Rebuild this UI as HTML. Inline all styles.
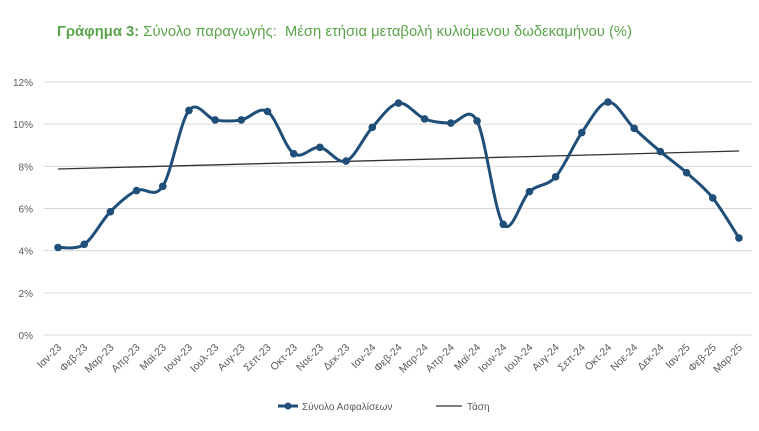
<!DOCTYPE html>
<html><head><meta charset="utf-8">
<style>
body{margin:0;background:#fff;width:759px;height:426px;overflow:hidden;font-family:"Liberation Sans",sans-serif}
</style></head><body>
<svg id="s" width="759" height="426" xmlns="http://www.w3.org/2000/svg" font-family="Liberation Sans, sans-serif">
<text x="57" y="36" font-size="14.8" fill="#5aa54a"><tspan font-weight="bold">Γράφημα 3:</tspan> Σύνολο παραγωγής:&#160; Μέση ετήσια μεταβολή κυλιόμενου δωδεκαμήνου (%)</text>
<g id="grid" stroke="#d9d9d9" stroke-width="1"></g>
<g id="yl" font-size="10" fill="#595959" text-anchor="end"></g>
<g id="xl" font-size="10.5" fill="#595959" text-anchor="end"></g>
<line x1="58" y1="169" x2="739" y2="151" stroke="#333" stroke-width="1.3"/>
<path id="p" fill="none" stroke="#1f4e79" stroke-width="3"/>
<g id="pts" fill="#1f4e79"></g>
<line x1="278" y1="406" x2="298" y2="406" stroke="#1f4e79" stroke-width="3"/>
<circle cx="288" cy="406" r="3.5" fill="#1f4e79"/>
<text x="302" y="410" font-size="10" fill="#595959">Σύνολο Ασφαλίσεων</text>
<line x1="436" y1="406" x2="462" y2="406" stroke="#333" stroke-width="1.3"/>
<text x="467" y="410" font-size="10" fill="#595959">Τάση</text>
</svg>
<script>
var ns="http://www.w3.org/2000/svg";
function el(t,a,p,txt){var e=document.createElementNS(ns,t);for(var k in a)e.setAttribute(k,a[k]);if(txt)e.textContent=txt;document.getElementById(p).appendChild(e);return e;}
var y0=335,step=42.17;
for(var i=0;i<=6;i++){var y=y0-i*step;el('line',{x1:44,x2:752,y1:y,y2:y},'grid');el('text',{x:33,y:y+4},'yl',(i*2)+'%');}
var lab=["Ιαν-23","Φεβ-23","Μαρ-23","Απρ-23","Μαϊ-23","Ιουν-23","Ιουλ-23","Αυγ-23","Σεπ-23","Οκτ-23","Νοε-23","Δεκ-23","Ιαν-24","Φεβ-24","Μαρ-24","Απρ-24","Μαϊ-24","Ιουν-24","Ιουλ-24","Αυγ-24","Σεπ-24","Οκτ-24","Νοε-24","Δεκ-24","Ιαν-25","Φεβ-25","Μαρ-25"];
var v=[4.15,4.3,5.85,6.85,7.05,10.65,10.2,10.2,10.6,8.6,8.9,8.25,9.85,11.0,10.25,10.05,10.15,5.25,6.8,7.5,9.6,11.05,9.8,8.7,7.7,6.5,4.6];
var P=[];
for(var i=0;i<27;i++){var x=58+i*26.19,y=y0-v[i]/2*step;P.push([x,y]);
el('text',{x:x+4,y:348,transform:'rotate(-45 '+(x+4)+' 348)'},'xl',lab[i]);}
var d='M'+P[0][0]+','+P[0][1];
for(var i=0;i<26;i++){var a=P[i-1]||P[i],b=P[i],c=P[i+1],e=P[i+2]||c,k=1/6;
d+=' C'+(b[0]+(c[0]-a[0])*k)+','+(b[1]+(c[1]-a[1])*k)+' '+(c[0]-(e[0]-b[0])*k)+','+(c[1]-(e[1]-b[1])*k)+' '+c[0]+','+c[1];}
document.getElementById('p').setAttribute('d',d);
P.forEach(function(p){el('circle',{cx:p[0],cy:p[1],r:3.8},'pts');});
</script>
</body></html>
